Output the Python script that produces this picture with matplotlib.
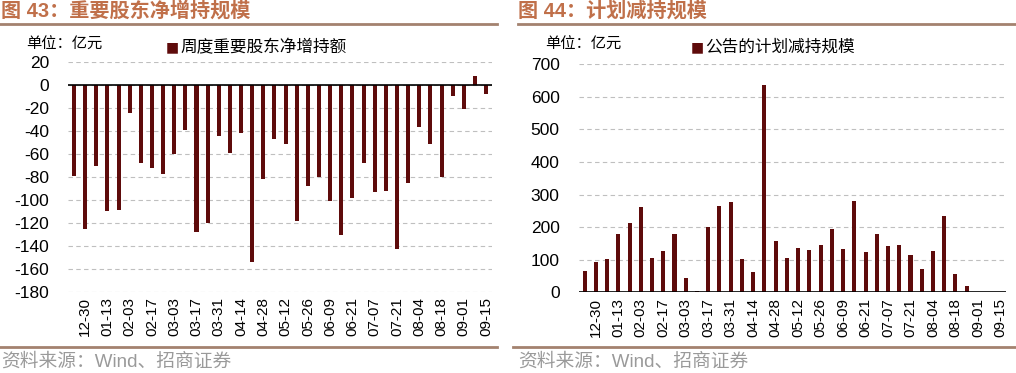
import numpy as np
import matplotlib
matplotlib.use("Agg")
import matplotlib.pyplot as plt
from matplotlib.lines import Line2D

plt.rcParams["font.family"] = ["Liberation Sans", "Noto Sans CJK SC", "DejaVu Sans"]
plt.rcParams["axes.unicode_minus"] = False

# weekly dates, only every other one is shown on the axis
dates = ["12-23", "12-30", "01-06", "01-13", "01-20", "02-03", "02-10", "02-17",
         "02-24", "03-03", "03-10", "03-17", "03-24", "03-31", "04-07", "04-14",
         "04-21", "04-28", "05-05", "05-12", "05-19", "05-26", "06-02", "06-09",
         "06-16", "06-21", "06-30", "07-07", "07-14", "07-21", "07-28", "08-04",
         "08-11", "08-18", "08-25", "09-01", "09-08", "09-15"]

# 周度重要股东净增持额 (亿元)
net_increase = [-79, -125, -70, -110, -109, -24, -68, -72, -77, -60,
                -39, -128, -120, -44, -59, -42, -154, -82, -47, -51,
                -118, -88, -80, -101, -131, -98, -68, -93, -92, -143,
                -85, -36, -51, -80, -9, -21, 8, -8]

# 公告的计划减持规模 (亿元)
planned_cut = [65, 92, 103, 180, 214, 262, 105, 127, 179, 44,
               3, 200, 265, 277, 101, 62, 636, 158, 105, 137,
               131, 144, 194, 133, 280, 123, 180, 142, 145, 114,
               73, 127, 235, 57, 19, 2, 0, 0]

BAR = "#5E0B0B"
TITLE = "#C0704A"
RULE = "#A3826F"
GRID = "#BFBFBF"
W, H = 1016, 373

fig = plt.figure(figsize=(W / 100, H / 100), dpi=100)
fig.patch.set_facecolor("white")


def px_axes(x0, x1, ytop, ybot):
    return fig.add_axes([x0 / W, 1 - ybot / H, (x1 - x0) / W, (ybot - ytop) / H])


def hline(x0, x1, y):
    fig.add_artist(Line2D([x0 / W, x1 / W], [1 - y / H, 1 - y / H],
                          color=RULE, lw=2, transform=fig.transFigure))


def draw_panel(ax, values, ylim, step):
    x = np.arange(len(values))
    ax.bar(x, values, width=0.36, color=BAR, zorder=3)
    ax.set_xlim(-0.5, len(values) - 0.5)
    ax.set_ylim(*ylim)
    ax.set_yticks(np.arange(ylim[0], ylim[1] + 1, step))
    ax.yaxis.grid(True, linestyle=(0, (4, 3)), color=GRID, lw=0.8, zorder=0)
    ax.axhline(0, color="black", lw=1.2, zorder=4)
    ax.set_xticks(x[1::2])
    ax.set_xticklabels(dates[1::2], rotation=90, fontsize=11)
    ax.tick_params(axis="both", length=0)
    ax.tick_params(axis="y", labelsize=12.5, pad=14)
    ax.tick_params(axis="x", labelsize=11, pad=4)
    for s in ax.spines.values():
        s.set_visible(False)


# ── left panel ────────────────────────────────────────────────────────────
ax1 = px_axes(68.4, 491.7, 62.3, 291.7)
draw_panel(ax1, net_increase, (-180, 20), 20)
fig.text(1 / W, 1 - 11 / H, "图 43：重要股东净增持规模", color=TITLE,
         fontsize=14.5, fontweight="bold", va="center")
hline(0, 497, 24)
fig.text(26 / W, 1 - 45 / H, "单位：亿元", fontsize=11, va="center")
fig.text(166 / W, 1 - 47 / H, "■", fontsize=10, color=BAR, va="center",
         family="DejaVu Sans")
fig.text(180 / W, 1 - 47 / H, "周度重要股东净增持额", fontsize=12, va="center")
hline(0, 497, 347)
fig.text(1 / W, 1 - 362 / H, "资料来源：Wind、招商证券", fontsize=13.5,
         color="#9A9A9A", va="center")

# ── right panel ───────────────────────────────────────────────────────────
ax2 = px_axes(579, 1006, 64.3, 292.3)
draw_panel(ax2, planned_cut, (0, 700), 100)
fig.text(518 / W, 1 - 11 / H, "图 44：计划减持规模", color=TITLE,
         fontsize=14.5, fontweight="bold", va="center")
hline(518, 1016, 24)
fig.text(545 / W, 1 - 45 / H, "单位：亿元", fontsize=11, va="center")
fig.text(691 / W, 1 - 47 / H, "■", fontsize=10, color=BAR, va="center",
         family="DejaVu Sans")
fig.text(705 / W, 1 - 47 / H, "公告的计划减持规模", fontsize=12, va="center")
hline(513, 1016, 347)
fig.text(518 / W, 1 - 362 / H, "资料来源：Wind、招商证券", fontsize=13.5,
         color="#9A9A9A", va="center")

fig.savefig("out.png", dpi=100)
